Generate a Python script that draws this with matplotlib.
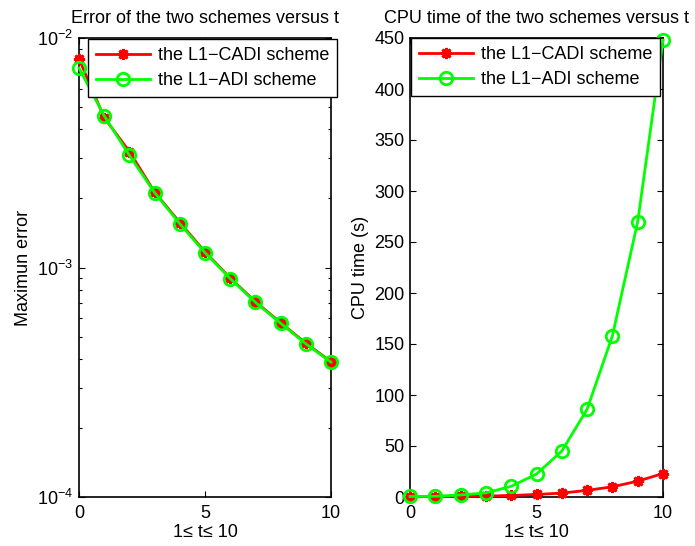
import matplotlib
matplotlib.use("Agg")
import matplotlib.pyplot as plt
from matplotlib.ticker import LogLocator, NullFormatter

plt.rcParams['font.family'] = ['Liberation Sans', 'DejaVu Sans']
plt.rcParams['mathtext.default'] = 'regular'

t = [0, 1, 2, 3, 4, 5, 6, 7, 8, 9, 10]
err_cadi = [8.1e-3, 4.5e-3, 3.2e-3, 2.13e-3, 1.57e-3, 1.17e-3, 9.0e-4, 7.1e-4, 5.75e-4, 4.68e-4, 3.89e-4]
err_adi = [7.4e-3, 4.58e-3, 3.08e-3, 2.12e-3, 1.55e-3, 1.16e-3, 8.95e-4, 7.05e-4, 5.72e-4, 4.65e-4, 3.87e-4]
cpu_cadi = [0.3, 0.4, 0.6, 0.9, 1.5, 2.5, 3.8, 6.5, 10, 15.5, 23]
cpu_adi = [0.5, 0.7, 2, 4, 10.5, 22.5, 45, 86, 158, 270, 448]

lab_cadi = 'the L1\u2212CADI scheme'
lab_adi = 'the L1\u2212ADI scheme'

W, H = 695, 546
fig = plt.figure(figsize=(W / 100, H / 100), dpi=100)
fs = 13

def ax_rect(x0, x1, y0, y1):
    return [x0 / W, 1 - y1 / H, (x1 - x0) / W, (y1 - y0) / H]

ax1 = fig.add_axes(ax_rect(79, 331, 38, 497))
ax2 = fig.add_axes(ax_rect(410, 663, 38, 497))

red = '#ff0000'
green = '#00ff00'
asterisk = (8, 2, 0)

for ax, yc, ya in ((ax1, err_cadi, err_adi), (ax2, cpu_cadi, cpu_adi)):
    ax.plot(t, yc, color=red, lw=2, marker=asterisk, ms=8, mec=red, mfc=red, mew=2,
            label=lab_cadi, clip_on=False, zorder=3)
    ax.plot(t, ya, color=green, lw=2, marker='o', ms=9, mec=green, mfc='none', mew=2,
            label=lab_adi, clip_on=False, zorder=4)

ax1.set_yscale('log')
ax1.set_ylim(1e-4, 1e-2)
ax1.set_xlim(0, 10)
ax1.set_xticks([0, 5, 10])
ax1.yaxis.set_major_locator(LogLocator(base=10, numticks=10))
ax1.yaxis.set_minor_locator(LogLocator(base=10, subs=range(2, 10), numticks=20))
ax1.yaxis.set_minor_formatter(NullFormatter())
ax1.set_title('Error of the two schemes versus t', fontsize=fs, pad=11)
ax1.set_ylabel('Maximun error', fontsize=fs, labelpad=4)
ax1.set_xlabel('1\u2264 t\u2264 10', fontsize=fs, labelpad=1)

ax2.set_ylim(0, 450)
ax2.set_xlim(0, 10)
ax2.set_xticks([0, 5, 10])
ax2.set_yticks(range(0, 451, 50))
ax2.set_title('CPU time of the two schemes versus t', fontsize=fs, pad=11)
ax2.set_ylabel('CPU time (s)', fontsize=fs, labelpad=4)
ax2.set_xlabel('1\u2264 t\u2264 10', fontsize=fs, labelpad=1)

for ax in (ax1, ax2):
    ax.tick_params(axis='both', which='both', direction='in', top=True, right=True, labelsize=fs)
    ax.tick_params(axis='x', pad=6)
    ax.tick_params(axis='y', pad=4)
    ax.tick_params(which='major', length=4, width=0.8)
    ax.tick_params(which='minor', length=2.5, width=0.8)
    for s in ax.spines.values():
        s.set_linewidth(1.2)
    leg = ax.legend(loc='upper left', fontsize=fs, frameon=True, fancybox=False, framealpha=1,
                    edgecolor='black', handlelength=3.0, borderaxespad=0.0, borderpad=0.45,
                    labelspacing=0.45, handletextpad=0.4)
    leg.get_frame().set_linewidth(1.0)

leg1 = ax1.get_legend()
leg1.set_bbox_to_anchor((88 / W, 1 - 39 / H), transform=fig.transFigure)
leg2 = ax2.get_legend()
leg2.set_bbox_to_anchor((411 / W, 1 - 38 / H), transform=fig.transFigure)

fig.savefig('out.png', dpi=100)
